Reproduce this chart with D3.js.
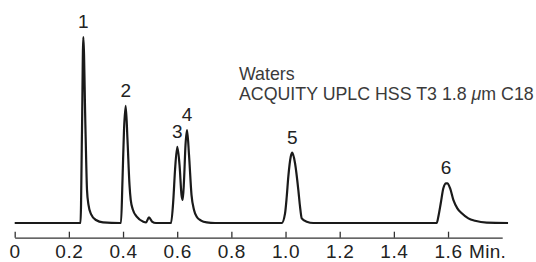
<!DOCTYPE html>
<html lang="en">
<head>
    <meta charset="utf-8">
    <title>UPLC chromatogram</title>
    <script src="https://d3js.org/d3.v7.min.js"></script>
    <style type="text/css">
        body { margin: 0; background: #fff; }
        text { font-family: "Liberation Sans", Arial, sans-serif; }
    </style>
</head>
<body>
<script type="text/javascript">
    // Width and height of the picture
    var w = 536;
    var h = 262;

    // Trace of the detector signal (time in min, signal in % of peak 1)
    var traceTime = [0, 0.243, 0.2485, 0.2533, 0.2614, 0.267, 0.2725, 0.2818, 0.300, 0.326, 0.389,
        0.3925, 0.398, 0.4036, 0.4099, 0.4165, 0.4239, 0.4284, 0.4368, 0.4505, 0.4749, 0.4849,
        0.4959, 0.507, 0.5218,
        0.5772, 0.5857, 0.592, 0.6004, 0.6086, 0.616, 0.6204, 0.6252, 0.6307, 0.6363, 0.6436,
        0.6529, 0.6621, 0.6721, 0.688, 0.709, 0.7397,
        0.986, 0.9982, 1.0044, 1.0103, 1.0192, 1.0251, 1.0351, 1.0473, 1.0535, 1.0598, 1.0783, 1.1026,
        1.5583, 1.5642, 1.5731, 1.5827, 1.5927, 1.5975, 1.6075, 1.6196, 1.6344, 1.6507, 1.675,
        1.6998, 1.743, 1.8216];
    var traceSignal = [0, 0, 50, 100, 50, 17.7, 9.7, 4.8, 1.6, 0.3, 0,
        0, 23, 50, 63, 44.6, 20.4, 12.4, 7, 3.4, 0.7, 0.3,
        3, 0.8, 0,
        0, 12.4, 28.5, 40.9, 31.2, 15, 12.4, 23, 42, 50, 36.6,
        15, 7, 3.4, 1.3, 0.3, 0,
        0, 5.2, 14.1, 24.9, 35.6, 37.8, 32.1, 17.7, 8.8, 2.5, 0.7, 0,
        0, 3.4, 10.6, 18.7, 21.3, 21.3, 18.7, 12.4, 7.9, 5.2, 2.5,
        1.2, 0.2, 0];

    // Peak labels
    var peakNames = ["1", "2", "3", "4", "5", "6"];
    var peakTimes = [0.2533, 0.4099, 0.6004, 0.6363, 1.0251, 1.5927];
    var peakHeights = [100, 63, 40.9, 50, 37.8, 21.3];

    // Axis ticks
    var tickValues = [0, 0.2, 0.4, 0.6, 0.8, 1.0, 1.2, 1.4, 1.6];
    var axisUnit = "Min.";

    // Column description (the mu is set in italics)
    var titleLines = ["Waters", "ACQUITY UPLC HSS T3 1.8 ", "\u03bc", "m C18"];

    var x = d3.scaleLinear().domain([0, 1.8]).range([14.7, 502.2]);
    var y = d3.scaleLinear().domain([0, 100]).range([223, 37]);

    var svg = d3.select("body")
                .append("svg")
                .attr("width", w)
                .attr("height", h);

    // chromatogram trace
    var line = d3.line()
        .x(function(d) { return x(d[0]); })
        .y(function(d) { return y(d[1]); })
        .curve(d3.curveMonotoneX);

    svg.append("path")
       .datum(d3.zip(traceTime, traceSignal))
       .attr("d", line)
       .attr("fill", "none")
       .attr("stroke", "#1a1a1a")
       .attr("stroke-width", 2.2)
       .attr("stroke-linejoin", "round");

    // peak numbers
    svg.selectAll(".peak")
       .data(peakNames)
       .enter()
       .append("text")
       .attr("class", "peak")
       .attr("x", function(d, i) { return x(peakTimes[i]); })
       .attr("y", function(d, i) { return y(peakHeights[i]) - 9; })
       .attr("text-anchor", "middle")
       .attr("font-size", "19px")
       .attr("fill", "#222")
       .text(function(d) { return d; });

    // time axis, ticks pointing up
    var axis = d3.axisBottom(x)
        .tickValues(tickValues)
        .tickSize(-6)
        .tickSizeOuter(0)
        .tickPadding(7)
        .tickFormat(function(d) { return d === 0 ? "0" : d.toFixed(1); });

    var gAxis = svg.append("g")
        .attr("transform", "translate(0,237.7)")
        .call(axis);
    gAxis.select(".domain").attr("stroke", "#333").attr("stroke-width", 1.3);
    gAxis.selectAll(".tick line").attr("stroke", "#333").attr("stroke-width", 1.3);
    gAxis.selectAll(".tick text")
        .attr("font-size", "19px")
        .attr("font-family", "Liberation Sans, Arial, sans-serif")
        .attr("letter-spacing", "0.6px")
        .attr("fill", "#222");

    svg.append("text")
       .attr("x", 469)
       .attr("y", 258.2)
       .attr("font-size", "19px")
       .attr("letter-spacing", "0.3px")
       .attr("fill", "#222")
       .text(axisUnit);

    // column description
    svg.append("text")
       .attr("x", 239)
       .attr("y", 80)
       .attr("font-size", "17.8px")
       .attr("fill", "#3a3a3a")
       .text(titleLines[0]);

    var t2 = svg.append("text")
       .attr("x", 239)
       .attr("y", 100)
       .attr("font-size", "17.8px")
       .attr("fill", "#3a3a3a");
    t2.append("tspan").text(titleLines[1]);
    t2.append("tspan").attr("font-style", "italic").text(titleLines[2]);
    t2.append("tspan").text(titleLines[3]);
</script>
</body>
</html>
